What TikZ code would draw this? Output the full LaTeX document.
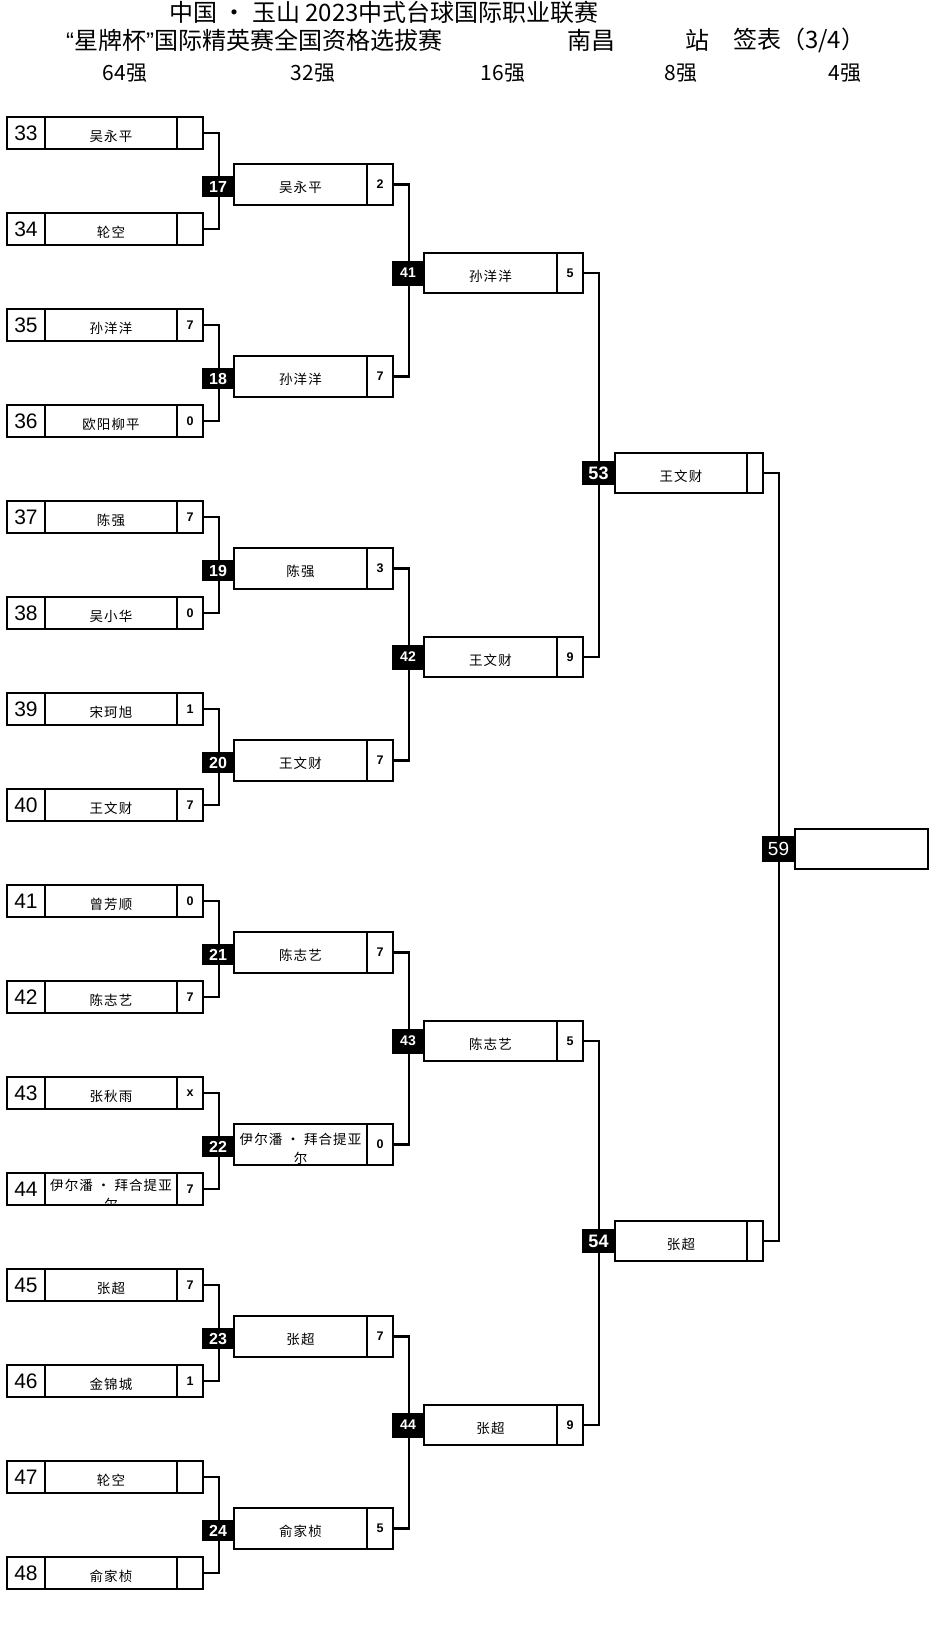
\documentclass[tikz,border=0pt]{standalone}
\usepackage{fontspec}
\setmainfont{Liberation Sans}
\newfontfamily\cjk{Noto Sans CJK SC}
\newfontfamily\cjkn[LetterSpace=8]{Noto Sans CJK SC}
\newfontfamily\lsans{Liberation Sans}
\usetikzlibrary{calc}
\newcommand\dn[1]{\raisebox{-3pt}[\height][\depth]{#1}}
\tikzset{
  bx/.style={draw, line width=2.1pt, inner sep=0pt, outer sep=0pt, anchor=west, fill=white},
  numc/.style={bx, minimum width=38pt, minimum height=32pt, font=\fontsize{21}{21}\selectfont},
  namec/.style={bx, minimum width=133pt, font=\cjkn\fontsize{13.5}{14}\selectfont},
  scc/.style={bx, minimum width=26pt, font=\bfseries\fontsize{12.5}{13}\selectfont},
  lbl/.style={fill=black, text=white, inner sep=0pt, outer sep=0pt, anchor=east, font=\bfseries\fontsize{16}{16}\selectfont},
  conn/.style={line width=2.1pt, line join=miter},
  nmtxt/.style={inner sep=0pt, font=\cjkn\fontsize{13.5}{19}\selectfont},
  ttl/.style={inner sep=0pt, font=\cjk\fontsize{24}{24}\selectfont},
  hdr/.style={inner sep=0pt, font=\cjk\fontsize{21}{21}\selectfont}
}
\begin{document}
\begin{tikzpicture}[x=1pt, y=-1pt]
\useasboundingbox (0,0) rectangle (938,1638);
\fill[white] (0,0) rectangle (938,1638);

% titles
\node[ttl] (t1) at (384,12.5) {中国 · 玉山 2023中式台球国际职业联赛};
\node[ttl, anchor=west] (t2) at (66,40) {{\lsans“}星牌杯{\lsans”}国际精英赛全国资格选拔赛};
\node[ttl, anchor=west] (t3) at (567,40) {南昌};
\node[ttl, anchor=west] (t4) at (685,40) {站};
\node[ttl, anchor=west] (t5) at (733,40) {签表（3/4）};
\node[hdr] (h64) at (125,73) {64强};
\node[hdr] (h32) at (313,73) {32强};
\node[hdr] (h16) at (503,73) {16强};
\node[hdr] (h8) at (681,73) {8强};
\node[hdr] (h4) at (845,73) {4强};

% round 1
\foreach \k/\num/\nm/\sc in {0/33/吴永平/{},1/34/轮空/{},2/35/孙洋洋/7,3/36/欧阳柳平/0,4/37/陈强/7,5/38/吴小华/0,6/39/宋珂旭/1,7/40/王文财/7,8/41/曾芳顺/0,9/42/陈志艺/7,10/43/张秋雨/x,11/44/{}/7,12/45/张超/7,13/46/金锦城/1,14/47/轮空/{},15/48/俞家桢/{}}{
  \node[numc] (r1n\num) at (7,{133+96*\k}) {\num};
  \node[namec, minimum width=132pt, minimum height=32pt] (r1m\num) at (r1n\num.east) {\dn{\nm}};
  \node[scc, minimum height=32pt] (r1s\num) at (r1m\num.east) {\sc};
}
\begin{scope}
  \clip ($(r1m44.south west)+(1,-1)$) rectangle ($(r1m44.north east)+(-1,1)$);
  \node[nmtxt] (r1m44a) at ($(r1m44.center)+(0,-4)$) {伊尔潘 · 拜合提亚};
  \node[nmtxt] (r1m44b) at ($(r1m44.center)+(0,15)$) {尔};
\end{scope}

% round 2
\foreach \k/\lb/\nm/\sc in {0/17/吴永平/2,1/18/孙洋洋/7,2/19/陈强/3,3/20/王文财/7,4/21/陈志艺/7,5/22/{}/0,6/23/张超/7,7/24/俞家桢/5}{
  \coordinate (r2c\lb) at (234,{184.5+192*\k});
  \node[namec, minimum height=41pt] (r2m\lb) at (r2c\lb) {\dn{\nm}};
  \node[scc, minimum height=41pt] (r2s\lb) at (r2m\lb.east) {\sc};
}
\node[nmtxt, align=center] (r2m22t) at ($(r2m22.center)+(0,4)$) {伊尔潘 · 拜合提亚\\尔};

% round 3
\foreach \k/\lb/\nm/\sc in {0/41/孙洋洋/5,1/42/王文财/9,2/43/陈志艺/5,3/44/张超/9}{
  \coordinate (r3c\lb) at (424,{273+384*\k});
  \node[namec, minimum height=40pt] (r3m\lb) at (r3c\lb) {\dn{\nm}};
  \node[scc, minimum height=40pt] (r3s\lb) at (r3m\lb.east) {\sc};
}

% round 4
\foreach \lb/\yy/\nm in {53/473/王文财,54/1241/张超}{
  \coordinate (r4c\lb) at (615,\yy);
  \node[namec, minimum width=132pt, minimum height=40pt] (r4m\lb) at (r4c\lb) {\dn{\nm}};
  \node[scc, minimum width=16pt, minimum height=40pt] (r4s\lb) at (r4m\lb.east) {};
}

% round 5
\coordinate (r5c59) at (795,849);
\node[namec, minimum height=40pt] (r5m59) at (r5c59) {};

% connectors
\foreach \a/\b in {33/34,35/36,37/38,39/40,41/42,43/44,45/46,47/48}
  \draw[conn] (r1s\a.east) -- ++(16,0) |- (r1s\b.east);
\foreach \a/\b in {17/18,19/20,21/22,23/24}
  \draw[conn] (r2s\a.east) -- ++(16,0) |- (r2s\b.east);
\foreach \a/\b in {41/42,43/44}
  \draw[conn] (r3s\a.east) -- ++(16,0) |- (r3s\b.east);
\draw[conn] (r4s53.east) -- ++(16,0) |- (r4s54.east);

% labels
\foreach \lb in {17,...,24}
  \node[lbl, minimum width=32pt, minimum height=21pt] (r2L\lb) at ($(r2m\lb.west)+(0,2)$) {\lb};
\foreach \lb in {41,...,44}
  \node[lbl, minimum width=32pt, minimum height=25pt, font=\bfseries\fontsize{14}{14}\selectfont] (r3L\lb) at (r3m\lb.west) {\lb};
\foreach \lb in {53,54}
  \node[lbl, minimum width=33pt, minimum height=24pt, font=\bfseries\fontsize{18}{18}\selectfont] (r4L\lb) at (r4m\lb.west) {\lb};
\node[lbl, minimum width=33pt, minimum height=26pt, font=\fontsize{19}{19}\selectfont] (r5L59) at (r5m59.west) {59};
\end{tikzpicture}
\end{document}
